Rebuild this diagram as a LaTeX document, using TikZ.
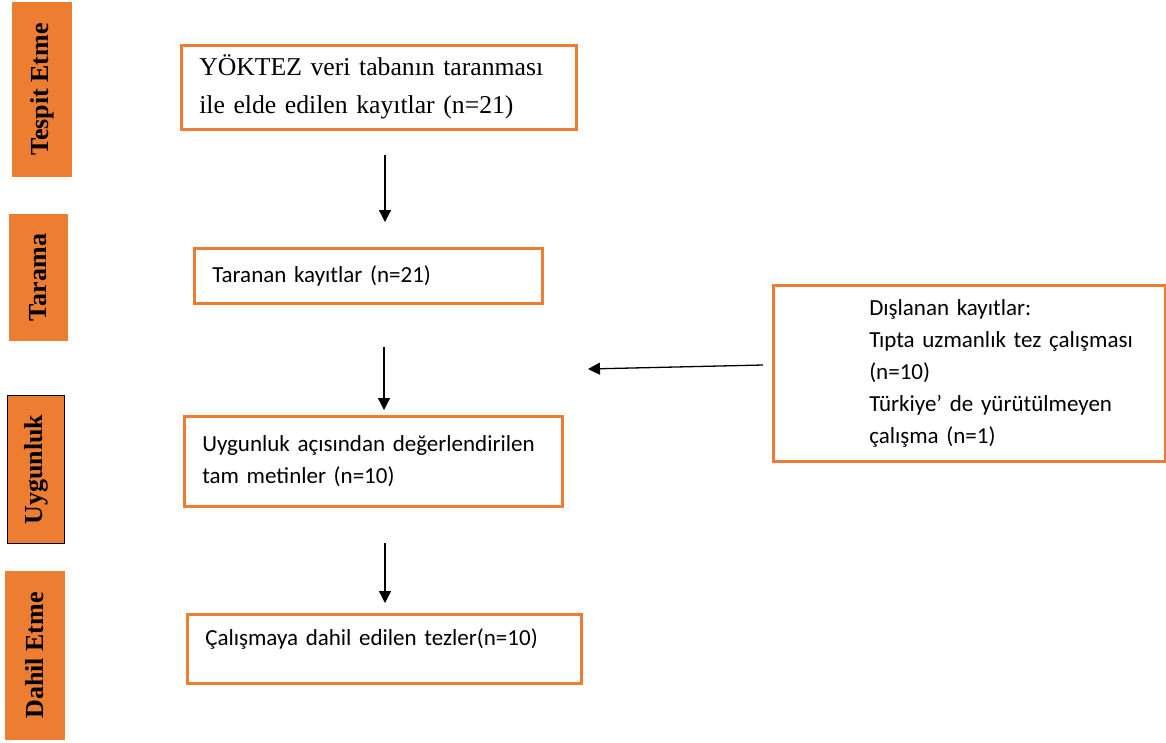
\documentclass[tikz,border=0pt]{standalone}
\usepackage{fontspec}
\setmainfont{Liberation Serif}
\newfontfamily\calibrifont{Carlito}
\usetikzlibrary{arrows.meta}
\definecolor{prismaorange}{HTML}{ED7D31}

\begin{document}
\begin{tikzpicture}[x=1pt,y=-1pt,
  phase/.style={fill=prismaorange,rotate=90,inner sep=0pt,font=\fontsize{26}{26}\selectfont\bfseries},
  flowbox/.style={draw=prismaorange,line width=2.5pt,anchor=north west,inner xsep=18pt,inner ysep=0pt,align=left},
  flowarrow/.style={-{Triangle[length=12pt,width=12pt]},line width=1.3pt}]
  \useasboundingbox (0,0) rectangle (1166,742);
  % phase bars on the left
  \foreach \n/\x/\y/\barlen/\barthick/\txt in {tespit/42/89.5/175/60/Tespit Etme,tarama/38.5/277.5/127/59/Tarama,uygun/36/469.5/147/56/Uygunluk,dahil/35/655.5/169/60/Dahil Etme} {
    \node[phase,minimum width=\barlen pt,minimum height=\barthick pt] (\n) at (\x,\y) {\txt};
  }
  \draw[line width=1.2pt] (uygun.south west) rectangle (uygun.north east);
  % flow boxes
  \node[flowbox,minimum width=395pt,minimum height=84pt,text width=359pt,
        font=\fontsize{25.7}{38}\selectfont] (kayit) at (180,44)
    {Y\"OKTEZ veri taban\i n taranmas\i\\ile elde edilen kay\i tlar (n=21)};
  \node[flowbox,minimum width=348pt,minimum height=55pt,text width=312pt,
        font=\calibrifont\fontsize{23}{32}\selectfont] (tarama box) at (193,247)
    {Taranan kay\i tlar (n=21)};
  \node[flowbox,minimum width=378pt,minimum height=90pt,text width=342pt,
        font=\calibrifont\fontsize{23}{32}\selectfont] (uygun box) at (183,415)
    {Uygunluk a\c c\i s\i ndan de\u gerlendirilen\\tam metinler (n=10)};
  \node[flowbox,minimum width=394pt,minimum height=69pt,text width=358pt,inner xsep=17pt,
        text depth=23pt,font=\calibrifont\fontsize{23}{32}\selectfont] (dahil box) at (186,613)
    {\c Cal\i \c smaya dahil edilen tezler(n=10)};
  \node[flowbox,minimum width=392pt,minimum height=176pt,text width=392pt,inner xsep=0pt,
        font=\calibrifont\fontsize{23}{32}\selectfont] (dislanan) at (772,284)
    {\hspace*{96pt}\parbox[t]{282pt}{D\i \c slanan kay\i tlar:\\T\i pta uzmanl\i k tez \c cal\i \c smas\i\\(n=10)\\T\"urkiye’ de y\"ur\"ut\"ulmeyen\\\c cal\i \c sma (n=1)}};
  % arrows
  \coordinate (a1) at (385,155);
  \coordinate (a2) at (384,347);
  \coordinate (a3) at (385,543);
  \coordinate (ex) at (763,365);
  \draw[flowarrow] (a1) -- ([yshift=25pt]a1 |- tarama box.north);
  \draw[flowarrow] (a2) -- ([yshift=5pt]a2 |- uygun box.north);
  \draw[flowarrow] (a3) -- ([yshift=10pt]a3 |- dahil box.north);
  \draw[flowarrow] (ex) -- (588,369);
\end{tikzpicture}
\end{document}
